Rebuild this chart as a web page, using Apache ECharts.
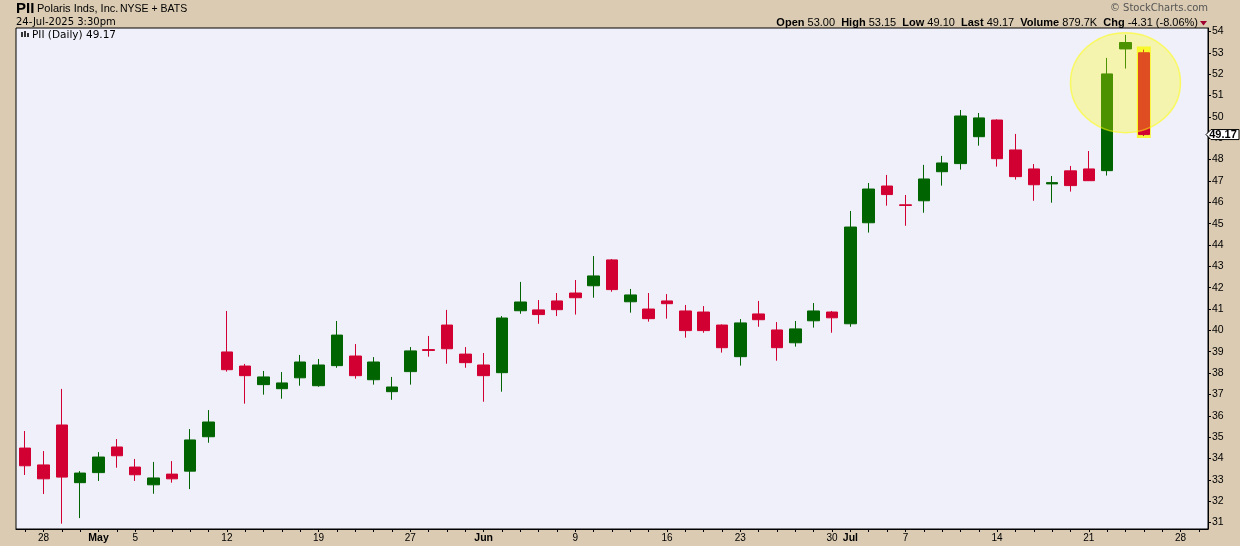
<!DOCTYPE html>
<html><head><meta charset="utf-8">
<script src="https://cdn.jsdelivr.net/npm/echarts@6/dist/echarts.min.js"></script>
<style>html,body{margin:0;padding:0;background:#DACBB2;}#c{width:1240px;height:546px;}</style>
</head><body><div id="c"></div>
<script>
const dates = ['Apr 25','Apr 28','Apr 29','Apr 30','May 1','May 2','May 5','May 6','May 7','May 8','May 9','May 12','May 13','May 14','May 15','May 16','May 19','May 20','May 21','May 22','May 23','May 27','May 28','May 29','May 30','Jun 2','Jun 3','Jun 4','Jun 5','Jun 6','Jun 9','Jun 10','Jun 11','Jun 12','Jun 13','Jun 16','Jun 17','Jun 18','Jun 20','Jun 23','Jun 24','Jun 25','Jun 26','Jun 27','Jun 30','Jul 1','Jul 2','Jul 3','Jul 7','Jul 8','Jul 9','Jul 10','Jul 11','Jul 14','Jul 15','Jul 16','Jul 17','Jul 18','Jul 21','Jul 22','Jul 23','Jul 24','Jul 25','Jul 28','Jul 29'];
const opens = [34.49,33.70,35.57,32.87,33.34,34.54,33.60,32.77,33.27,33.41,
35.02,38.99,38.33,37.46,37.27,37.78,37.41,38.35,38.80,37.69,
37.13,38.07,39.10,40.25,38.89,38.38,38.02,40.92,40.96,41.38,
41.75,42.09,43.30,41.34,41.00,41.38,40.91,40.86,40.25,38.77,
40.77,40.02,39.42,40.45,40.86,40.31,45.04,46.76,45.88,46.07,
47.43,47.81,49.07,49.85,48.45,47.56,46.86,47.47,47.56,47.48,
53.18,53.00];
const highs = [35.29,34.35,37.26,33.41,34.30,34.91,33.98,33.84,33.88,35.38,
36.27,40.91,38.43,38.10,38.05,38.85,38.66,40.44,39.36,38.75,
37.82,39.22,39.74,40.96,39.22,38.94,40.67,42.27,41.42,41.75,
42.36,43.48,43.34,41.94,41.75,41.70,41.19,41.14,40.28,40.53,
41.38,40.39,40.44,41.28,40.91,45.59,46.90,47.28,46.34,47.75,
48.17,50.32,50.18,49.88,49.20,47.79,47.23,47.70,48.40,52.76,
53.84,53.15];
const lows = [33.23,32.34,30.95,31.21,32.95,33.57,32.95,32.35,32.87,32.57,
34.74,38.07,36.57,36.99,36.80,37.41,37.36,38.25,37.74,37.46,
36.75,37.46,38.77,38.44,38.25,36.66,37.13,40.78,40.31,40.67,
40.74,41.53,41.81,40.83,40.41,40.55,39.66,39.89,38.96,38.35,
40.17,38.58,39.24,40.13,39.89,40.17,44.58,45.84,44.90,45.51,
46.78,47.53,48.65,47.67,47.06,46.07,45.98,46.50,47.00,47.25,
52.26,49.10];
const closes = [33.66,33.05,33.13,33.32,34.07,34.13,33.24,33.09,33.05,34.87,
35.71,38.16,37.88,37.82,37.54,38.52,38.38,39.78,37.88,38.52,
37.35,39.04,39.06,39.14,38.49,37.88,40.58,41.33,40.74,40.97,
41.53,42.55,41.91,41.66,40.55,41.25,39.99,39.99,39.19,40.35,
40.50,39.19,40.07,40.91,40.59,44.84,46.62,46.36,45.85,47.09,
47.84,50.04,49.95,48.04,47.20,46.82,46.92,46.78,47.01,52.01,
53.48,49.17];
const labelDates = ['Apr 28','May 1','May 5','May 12','May 19','May 27','Jun 2','Jun 9','Jun 16','Jun 23','Jun 30','Jul 1','Jul 7','Jul 14','Jul 21','Jul 28'];
const labelTexts = ['28','May','5','12','19','27','Jun','9','16','23','30','Jul','7','14','21','28'];
const monthLabels = ['May','Jun','Jul'];
const yTicks = [31,32,33,34,35,36,37,38,39,40,41,42,43,44,45,46,47,48,49,50,51,52,53,54];
const yRange = [30.7, 54.16];
const volumeText = '879.7K';
const highlightLevel = 51.6;

const UP = '#006400', DN = '#D20032';
const candleData = dates.map((d, i) => i < opens.length ? [opens[i], closes[i], lows[i], highs[i]] : '-');
const chart = echarts.init(document.getElementById('c'));
chart.setOption({
  animation: false,
  backgroundColor: '#DACBB2',
  grid: {left: 16, right: 32, top: 28, bottom: 17, show: true, backgroundColor: '#F0F0FA', borderColor: '#000', borderWidth: 1},
  xAxis: {
    type: 'category', data: dates, boundaryGap: true,
    axisLine: {show: true, lineStyle: {color: '#000', width: 1}},
    axisTick: {show: true, interval: 0, alignWithLabel: true, length: 3, lineStyle: {color: '#000'}},
    axisLabel: {
      interval: (idx, v) => labelDates.indexOf(v) >= 0,
      formatter: v => { const t = labelTexts[labelDates.indexOf(v)]; return monthLabels.indexOf(t) >= 0 ? '{b|' + t + '}' : '{n|' + t + '}'; },
      margin: 4,
      rich: {n: {fontFamily: 'Liberation Sans', fontSize: 10, color: '#000'}, b: {fontFamily: 'Liberation Sans', fontSize: 10.5, fontWeight: 'bold', color: '#000'}}
    },
    splitLine: {show: false}
  },
  yAxis: {
    type: 'value', position: 'right', min: yRange[0], max: yRange[1], scale: true,
    splitLine: {show: false},
    axisLine: {show: true, lineStyle: {color: '#000'}},
    axisTick: {show: true, length: 3, customValues: yTicks, lineStyle: {color: '#000'}},
    axisLabel: {customValues: yTicks, margin: 4, fontFamily: 'Liberation Sans', fontSize: 10.5, color: '#000'}
  },
  series: [{
    type: 'candlestick', data: candleData, barWidth: 12, z: 2,
    itemStyle: {color: UP, color0: DN, borderColor: UP, borderColor0: DN, borderWidth: 1}
  }]
});

const last = closes.length - 1;
const chg = closes[last] - closes[last - 1];
const pct = chg / closes[last - 1] * 100;
const px = (i, v) => chart.convertToPixel({gridIndex: 0}, [i, v]);
const hi = px(last, highs[last]), lo = px(last, lows[last]), pr = px(last, closes[last]);
const ec = px(last - 1, highlightLevel);
const tag = [1208, pr[1]];
const f = (n) => n.toFixed(2);

chart.setOption({graphic: [
  {type: 'rect', z: 1, shape: {x: hi[0] - 7, y: hi[1] - 3, width: 14, height: lo[1] - hi[1] + 5}, style: {fill: '#F6F63C'}},
  {type: 'ellipse', z: 10, shape: {cx: ec[0], cy: ec[1], rx: 55, ry: 50}, style: {fill: 'rgba(255,255,0,0.3)', stroke: 'rgba(255,255,0,0.55)', lineWidth: 1.5}},
  {type: 'polygon', z: 10, shape: {points: [[tag[0] - 2, tag[1]], [tag[0] + 3, tag[1] - 5], [1239, tag[1] - 5], [1239, tag[1] + 5], [tag[0] + 3, tag[1] + 5]]}, style: {fill: '#fff', stroke: '#000', lineWidth: 1}},
  {type: 'text', z: 11, x: 1223, y: tag[1], style: {text: f(closes[last]), font: 'bold 11px "Liberation Sans"', fill: '#000', align: 'center', verticalAlign: 'middle'}},
  {type: 'text', x: 16, y: 1, style: {text: 'PII', font: 'bold 15px "Liberation Sans"', fill: '#000'}},
  {type: 'text', x: 37, y: 3, style: {text: 'Polaris Inds, Inc.', font: '11px "Liberation Sans"', fill: '#000'}},
  {type: 'text', x: 120, y: 4, style: {text: 'NYSE + BATS', font: '10.5px "Liberation Sans"', fill: '#000'}},
  {type: 'text', x: 16, y: 17, style: {text: '24-Jul-2025 3:30pm', font: '10px "DejaVu Sans"', fill: '#000'}},
  {type: 'rect', z: 12, shape: {x: 21, y: 32, width: 2, height: 5}, style: {fill: '#333'}},
  {type: 'rect', z: 12, shape: {x: 24, y: 31, width: 2, height: 6}, style: {fill: '#333'}},
  {type: 'rect', z: 12, shape: {x: 27, y: 33, width: 2, height: 4}, style: {fill: '#333'}},
  {type: 'text', z: 12, x: 32, y: 30, style: {text: 'PII (Daily) ' + f(closes[last]), font: '10.5px "DejaVu Sans"', fill: '#000'}},
  {type: 'text', x: 1208, y: 3, style: {text: '\u00A9 StockCharts.com', font: '10px "DejaVu Sans"', fill: '#555', align: 'right'}},
  {type: 'text', x: 1198, y: 17, style: {
    text: '{l|Open} ' + f(opens[last]) + '  {l|High} ' + f(highs[last]) + '  {l|Low} ' + f(lows[last]) + '  {l|Last} ' + f(closes[last]) + '  {l|Volume} ' + volumeText + '  {l|Chg} ' + f(chg) + ' (' + f(pct) + '%)',
    font: '11px "Liberation Sans"', fill: '#000', align: 'right',
    rich: {l: {fontWeight: 'bold', fontSize: 11, fontFamily: 'Liberation Sans', fill: '#000'}}
  }},
  {type: 'polygon', shape: {points: [[1200, 21], [1207, 21], [1203.5, 25.5]]}, style: {fill: '#A00030'}}
]});
</script></body></html>
